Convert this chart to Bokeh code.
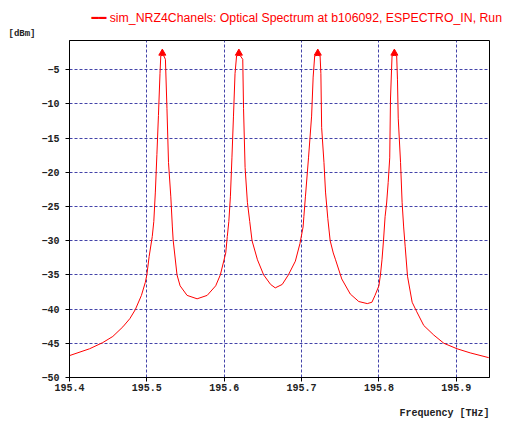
from bokeh.plotting import figure
from bokeh.models import Range1d, FixedTicker, Title
from bokeh.embed import file_html
from bokeh.resources import INLINE

# Optical spectrum (frequency in THz, power in dBm)
freq = [195.400, 195.426, 195.443, 195.456, 195.469, 195.478, 195.485, 195.493,
        195.498, 195.500, 195.503,
        195.507, 195.509, 195.511, 195.513, 195.515, 195.517, 195.518, 195.520,
        195.522, 195.524, 195.526, 195.528, 195.531, 195.533, 195.534,
        195.539, 195.543, 195.552, 195.565, 195.578, 195.589, 195.595, 195.602, 195.604,
        195.606, 195.608, 195.610, 195.612, 195.614, 195.616, 195.619, 195.621,
        195.624, 195.625, 195.627, 195.630, 195.633, 195.636,
        195.643, 195.651, 195.660, 195.666, 195.675, 195.683, 195.692, 195.698, 195.702,
        195.703, 195.705, 195.709, 195.713, 195.715, 195.717, 195.721, 195.724,
        195.725, 195.726, 195.729, 195.731, 195.734, 195.737,
        195.741, 195.744, 195.752, 195.763, 195.774, 195.785, 195.791, 195.795,
        195.800, 195.802, 195.804, 195.806, 195.808,
        195.810, 195.812, 195.814, 195.815, 195.817, 195.820, 195.823, 195.824,
        195.825, 195.828, 195.830, 195.832,
        195.834, 195.837, 195.843, 195.849, 195.858, 195.871, 195.884, 195.901,
        195.918, 195.942]
dbm = [-46.8, -45.8, -44.9, -44.0, -42.6, -41.4, -40.1, -38.0,
       -36.1, -35.0, -32.3,
       -29.4, -27.2, -22.9, -17.4, -11.7, -5.6, -3.0, -2.9,
       -3.0, -3.5, -10.7, -18.6, -23.6, -28.0, -29.9,
       -35.0, -36.6, -38.0, -38.5, -38.0, -36.6, -35.0, -31.8, -29.4,
       -27.2, -23.6, -17.9, -11.8, -5.6, -3.0, -2.9, -3.0,
       -3.5, -10.7, -19.3, -24.4, -27.2, -30.0,
       -32.8, -35.0, -36.4, -36.9, -36.4, -35.0, -33.0, -30.4, -28.0,
       -26.5, -23.6, -17.9, -11.8, -6.1, -3.0, -2.9, -3.0,
       -5.6, -13.5, -18.6, -22.9, -26.8, -30.0,
       -31.8, -32.8, -35.6, -37.8, -38.9, -39.2, -39.0, -38.0,
       -36.6, -35.0, -32.8, -29.9, -26.5,
       -24.5, -21.5, -17.9, -9.3, -3.0, -2.9, -3.0, -6.4,
       -12.1, -18.6, -24.4, -28.0,
       -30.9, -35.2, -39.0, -40.4, -42.4, -43.8, -45.0, -45.8,
       -46.4, -47.1]

peak_freq = [195.520, 195.619, 195.721, 195.820]
peak_dbm = [-2.6, -2.6, -2.6, -2.6]

x_ticks = [195.4, 195.5, 195.6, 195.7, 195.8, 195.9]
y_ticks = [-50, -45, -40, -35, -30, -25, -20, -15, -10, -5]
y_tick_labels = ["\u221250", "\u221245", "\u221240", "\u221235", "\u221230",
                 "\u221225", "\u221220", "\u221215", "\u221210", "\u22125"]

legend_text = "\u2501\u2501 sim_NRZ4Chanels: Optical Spectrum at b106092, ESPECTRO_IN, Run"
y_unit = "[dBm]"
x_title = "Frequency [THz]"

p = figure(width=508, height=430, output_backend="svg", toolbar_location=None,
           x_range=Range1d(195.4, 195.943), y_range=Range1d(-50, -0.75),
           min_border_left=69, min_border_right=19, min_border_top=40,
           min_border_bottom=47, background_fill_color="white",
           border_fill_color="white")

line = p.line(freq, dbm, line_color="#ff0000", line_width=1)
p.scatter(peak_freq, peak_dbm, marker="triangle", size=7,
          fill_color="#ff0000", line_color="#ff0000")

for ax in (p.xaxis[0], p.yaxis[0]):
    ax.major_label_text_font = "Liberation Mono"
    ax.major_label_text_font_style = "bold"
    ax.major_label_text_font_size = "10px"
    ax.major_label_text_color = "#222222"
    ax.axis_line_color = "black"
    ax.major_tick_line_color = "black"
    ax.major_tick_in = 0
    ax.major_tick_out = 4
    ax.minor_tick_line_color = None

p.xaxis[0].ticker = FixedTicker(ticks=x_ticks)
p.yaxis[0].ticker = FixedTicker(ticks=y_ticks)
p.yaxis[0].major_label_overrides = dict(zip(y_ticks, y_tick_labels))
p.xaxis[0].major_label_standoff = 2
p.yaxis[0].major_label_standoff = 6

p.xgrid[0].ticker = FixedTicker(ticks=x_ticks)
p.ygrid[0].ticker = FixedTicker(ticks=y_ticks)
for g in (p.xgrid[0], p.ygrid[0]):
    g.grid_line_color = "#22229a"
    g.grid_line_dash = "3 2"
    g.grid_line_alpha = 0.85

p.outline_line_color = "black"
p.outline_line_width = 1

# "[dBm]" unit label just above the frame, left of it
p.add_layout(Title(text=y_unit, align="left", offset=-61, standoff=4,
                   text_font="Liberation Mono", text_font_style="bold",
                   text_font_size="9px", text_color="#222222"), "above")
# legend line
p.add_layout(Title(text=legend_text, align="left", offset=22, standoff=0,
                   text_font="Liberation Sans, DejaVu Sans",
                   text_font_style="normal",
                   text_font_size="12.3px", text_color="#ff0000"), "above")

p.add_layout(Title(text=x_title, align="right", standoff=24, vertical_align="bottom",
                   text_font="Liberation Mono", text_font_style="bold",
                   text_font_size="10px", text_color="#222222"), "below")

open("out.html", "w").write(file_html(p, INLINE))
